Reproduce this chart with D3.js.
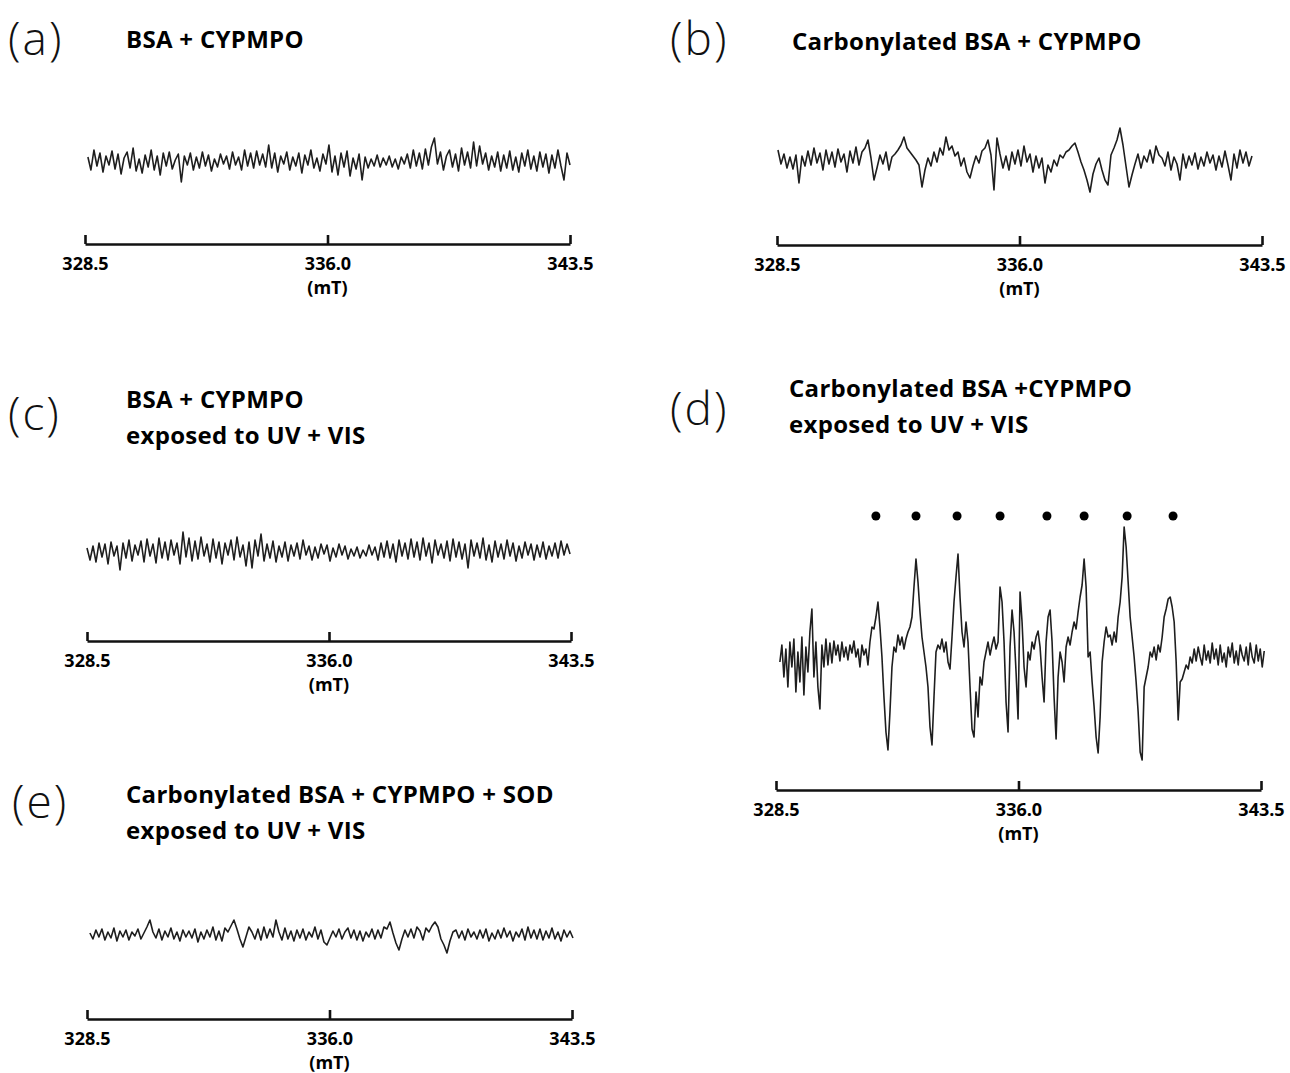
<!DOCTYPE html>
<html>
<head>
<meta charset="utf-8">
<script src="https://cdn.jsdelivr.net/npm/d3@7"></script>
<style>
  body { margin: 0; background: #fff; }
  .title { font-family: "Open Sans", Lato, sans-serif; font-weight: 700; font-size: 24px; fill: #000; letter-spacing: 0.3px; }
  .panel-label { font-family: "Open Sans", Lato, sans-serif; font-weight: 300; font-size: 46px; fill: #111; letter-spacing: 2px; }
  .axis text { font-family: "Open Sans", Lato, sans-serif; font-weight: 700; font-size: 18px; fill: #000; }
  .unit { font-family: "Open Sans", Lato, sans-serif; font-weight: 700; font-size: 18px; fill: #000; }
</style>
</head>
<body>
<div id="chart"></div>
<script>
// magnetic field axis (mT)
const fieldTicks = [328.5, 336.0, 343.5];
const unitLabel = "(mT)";

// EPR signal amplitude (arbitrary units), evenly spaced over each sweep
const specA = [5,-8,12,-4,9,-10,6,-3,11,-7, 8,-12,4,10,-6,14,-9,3,-11,7,
  -5,12,-8,6,-13,9,-4,10,-7,2, 8,-20,6,-3,9,-8,5,-6,10,-4,
  7,-9,3,-5,8,-2,6,-7,10,-3, 5,-8,12,-4,9,-6,11,-3,8,-5,
  17,-6,9,-10,6,-2,10,-8,5,-4, 9,-11,7,-3,12,-6,4,-9,8,-2,
  17,-10,6,-13,9,-5,11,-14,4,-7, 8,-18,5,-6,3,-4,7,-5,4,-3,
  6,-5,3,-7,5,-2,8,-6,12,-4, 9,-7,13,-3,15,24,-2,10,-8,6,
  12,-5,8,-9,14,-3,10,-6,20,-4, 16,-2,9,-8,6,-5,10,-9,7,-6,
  11,-8,5,-10,9,-4,12,-7,6,-9, 10,-5,8,-11,7,-6,12,-4,-18,9,-3];

const specB = [10,-4,6,-8,3,-9,5,-23,4,-6, 9,-5,12,-3,7,-10,10,-4,8,-7,
  11,-2,6,-12,9,-3,13,-5,8,12, 20,2,-20,-8,5,-4,8,-10,3,6,
  10,15,23,12,8,4,0,-5,-27,-10, 2,-6,8,-2,12,5,23,10,14,4,
  8,-6,2,-12,-18,-6,4,-3,9,12, 20,5,-30,22,6,-8,4,-10,8,-4,
  10,-6,14,-2,6,-12,4,-8,2,-23, -5,-12,0,-6,5,2,8,10,14,17,
  8,-2,-10,-20,-32,-14,-4,2,-10,-20, -25,5,12,20,32,15,-6,-27,-15,-4,
  6,-8,4,-2,10,-3,14,5,2,-6, 8,-10,3,-4,-20,6,-8,4,-5,7,
  -9,3,-6,8,-3,5,-10,4,-7,9, -5,-20,6,-8,10,-3,8,-6,4];

const specC = [4,-8,6,-10,9,-5,8,-12,10,-4, 6,-18,9,-6,12,-9,7,-3,11,-10,
  13,-4,8,-11,14,-6,10,-8,12,-3, 9,-12,20,-5,14,-9,11,-7,15,-4,
  8,-10,13,-6,10,-12,9,-3,12,-8, 15,-5,7,-14,10,-16,12,-4,18,-9,
  8,-6,11,-10,6,-5,10,-9,7,-4, 9,-7,12,-3,6,-8,5,-6,8,-2,
  7,-9,4,-5,8,-3,6,-7,3,-4, 5,-6,2,-4,7,-3,5,-8,9,-5,
  11,-6,8,-10,12,-4,9,-7,13,-5, 10,-8,14,-4,9,-11,12,-3,8,-6,
  11,-9,13,-5,10,-7,8,-16,12,-4, 9,-6,14,-8,7,-10,11,-5,8,-7,
  12,-4,9,-9,6,-6,10,-3,8,-8, 7,-5,10,-7,6,-4,9,-6,11,-3,8,-2];

const specD = [-5,12,-20,8,-30,15,-10,18,-35,5, -25,20,-38,10,-15,25,48,-20,15,-30,
  -52,12,-10,18,-8,14,-6,16,2,12, -4,15,0,10,-3,12,4,16,0,8,
  -10,12,2,8,-8,15,30,28,40,55, 30,0,-40,-75,-93,-55,-10,10,5,22,
  12,20,8,18,25,30,40,70,98,75, 45,20,5,-10,-30,-70,-88,-40,5,12,
  8,18,5,15,-5,-12,20,55,80,103, 60,25,10,35,15,-30,-72,-80,-35,-60,
  -20,-28,-5,5,15,2,12,20,8,15, 70,55,15,-45,-75,10,47,25,-15,-62,
  65,35,-10,-30,5,-3,15,8,20,26, 10,-20,-45,15,40,47,15,-40,-82,-20,
  5,-5,-25,10,20,12,25,35,28,45, 60,72,98,70,0,5,-25,-50,-80,-96,
  -60,-5,15,30,20,22,12,25,15,40, 55,80,130,110,75,40,20,0,-25,-55,
  -95,-103,-30,-20,-10,5,0,10,-3,12, 5,20,40,48,58,60,50,35,-5,-63,
  -25,-22,-15,-8,-12,0,-6,8,-4,10, 0,-8,12,-3,6,-6,14,-2,8,-8,
  12,-5,4,-10,10,0,14,-6,6,-8, 12,2,-4,10,-8,14,0,-6,12,-4,
  8,-10,6];

const specE = [2,-4,5,-2,6,-5,3,-3,7,-6, 4,-2,5,-5,3,-1,6,-4,2,8,
  15,3,-3,6,-5,4,-2,7,-4,3, -6,5,-2,4,-3,6,-7,3,-4,5,
  -2,8,-5,4,-6,7,3,9,15,6, -4,-12,-2,8,3,-4,6,-5,8,-3,
  6,-2,15,3,-5,7,-4,4,-6,5, -3,6,-5,3,-2,8,-4,5,-7,-10,
  -3,4,-2,6,-4,3,7,-3,5,-5, 4,-6,3,-2,6,-4,5,-3,8,6,
  13,2,-8,-15,-4,5,-2,6,-3,8, 4,-5,7,3,9,13,8,-4,-10,-18,
  -6,3,5,-3,4,-5,6,-2,3,-4, 5,-3,6,-6,2,-4,5,-3,7,-2,
  4,-6,3,-2,6,-5,8,-3,5,-4, 6,-5,4,-3,7,-4,3,-6,5,-2,4,-3];

// sweep start / end (mT) of each recorded spectrum
const sweepStart = [328.59, 328.53, 328.50, 328.62, 328.59];
const sweepEnd = [343.50, 343.19, 343.47, 343.60, 343.53];

// hyperfine lines marked with dots in (d), in mT
const markerFields = [331.59, 332.83, 334.10, 335.43, 336.88, 338.03, 339.36, 340.78];
const markerLevel = 141;

const panelLetters = ["(a)", "(b)", "(c)", "(d)", "(e)"];
const panelTitles = [
  ["BSA + CYPMPO"],
  ["Carbonylated BSA + CYPMPO"],
  ["BSA + CYPMPO", "exposed to UV + VIS"],
  ["Carbonylated BSA +CYPMPO", "exposed to UV + VIS"],
  ["Carbonylated BSA + CYPMPO + SOD", "exposed to UV + VIS"]
];
const spectra = [specA, specB, specC, specD, specE];

// layout of each panel on the page
const layout = [
  { x0: 85, x1: 570, axisY: 244, mid: 162, tx: 126, ty: 48, lx: 8, ly: 55 },
  { x0: 777, x1: 1262, axisY: 245, mid: 160, tx: 792, ty: 50, lx: 670, ly: 55 },
  { x0: 87, x1: 571, axisY: 641, mid: 552, tx: 126, ty: 408, lx: 8, ly: 430 },
  { x0: 776, x1: 1261, axisY: 790, mid: 657, tx: 789, ty: 397, lx: 670, ly: 425 },
  { x0: 87, x1: 572, axisY: 1019, mid: 935, tx: 126, ty: 803, lx: 12, ly: 818 }
];

const svg = d3.select("#chart").append("svg")
  .attr("width", 1290)
  .attr("height", 1073);

layout.forEach((p, k) => {
  const g = svg.append("g");
  const x = d3.scaleLinear().domain([fieldTicks[0], fieldTicks[2]]).range([p.x0, p.x1]);
  const y = d3.scaleLinear().domain([-100, 100]).range([p.mid + 100, p.mid - 100]);

  g.append("text")
    .attr("class", "panel-label")
    .attr("x", p.lx)
    .attr("y", p.ly)
    .text(panelLetters[k]);

  panelTitles[k].forEach((t, j) => {
    g.append("text")
      .attr("class", "title")
      .attr("x", p.tx)
      .attr("y", p.ty + j * 36)
      .text(t);
  });

  const vals = spectra[k];
  const step = (sweepEnd[k] - sweepStart[k]) / (vals.length - 1);
  const line = d3.line()
    .x((d, i) => x(sweepStart[k] + i * step))
    .y(d => y(d));

  g.append("path")
    .datum(vals)
    .attr("d", line)
    .attr("fill", "none")
    .attr("stroke", "#1e1e1e")
    .attr("stroke-width", 1.6)
    .attr("stroke-linejoin", "round");

  const axis = d3.axisBottom(x)
    .tickValues(fieldTicks)
    .tickFormat(d3.format(".1f"))
    .tickSize(-9)
    .tickSizeOuter(0)
    .tickPadding(13);

  const ax = g.append("g")
    .attr("class", "axis")
    .attr("transform", `translate(0,${p.axisY})`)
    .call(axis);
  ax.select(".domain").attr("stroke", "#111").attr("stroke-width", 2.6);
  ax.selectAll(".tick line").attr("stroke", "#111").attr("stroke-width", 2.6);

  g.append("text")
    .attr("class", "unit")
    .attr("x", x(fieldTicks[1]))
    .attr("y", p.axisY + 50)
    .attr("text-anchor", "middle")
    .text(unitLabel);

  if (k === 3) {
    g.selectAll("circle")
      .data(markerFields)
      .enter()
      .append("circle")
      .attr("cx", d => x(d))
      .attr("cy", y(markerLevel))
      .attr("r", 4.5)
      .attr("fill", "#000");
  }
});
</script>
</body>
</html>
